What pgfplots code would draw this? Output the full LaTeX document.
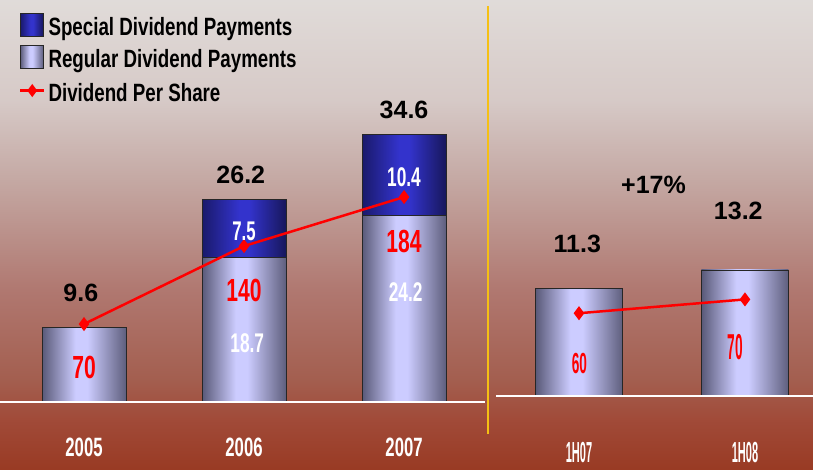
\documentclass[border=0pt]{standalone}
\usepackage{fontspec}
\setmainfont{Liberation Sans}
\usepackage{graphicx}
\usepackage{pgfplots}
\pgfplotsset{compat=1.18}
\newcommand\nar[2]{\scalebox{#1}[1]{#2}}
\newcommand\legtxt[1]{\nar{0.75}{#1}\rule[-5.5pt]{0pt}{19pt}}
\definecolor{gold}{RGB}{245,192,20}
\pgfdeclareverticalshading{bgshade}{100bp}{rgb(0bp)=(0.60,0.23,0.14); rgb(25bp)=(0.60,0.23,0.14); rgb(30.2bp)=(0.63,0.29,0.22); rgb(34.5bp)=(0.64,0.37,0.31); rgb(44.1bp)=(0.69,0.47,0.44); rgb(55.8bp)=(0.77,0.66,0.64); rgb(64.3bp)=(0.84,0.79,0.78); rgb(75bp)=(0.88,0.86,0.85); rgb(100bp)=(0.88,0.86,0.85)}
\pgfdeclarehorizontalshading{regshade}{100bp}{rgb(0bp)=(0.35,0.35,0.47); rgb(25bp)=(0.35,0.35,0.47); rgb(45bp)=(0.80,0.80,1.00); rgb(52bp)=(0.80,0.80,1.00); rgb(75bp)=(0.37,0.37,0.49); rgb(100bp)=(0.37,0.37,0.49)}
\pgfdeclarehorizontalshading{speshade}{100bp}{rgb(0bp)=(0.10,0.10,0.42); rgb(25bp)=(0.10,0.10,0.42); rgb(47bp)=(0.20,0.20,0.80); rgb(53bp)=(0.20,0.20,0.80); rgb(75bp)=(0.09,0.09,0.36); rgb(100bp)=(0.09,0.09,0.36)}
\pgfplotsset{
  sqleg/.style={legend image code/.code={\draw[##1] (0pt,-9.3pt) rectangle (23pt,13.7pt);\pgfsetbaseline{0pt}}},
  lnleg/.style={legend image code/.code={\draw[##1,sharp plot,mark repeat=2,mark phase=2] plot coordinates {(0pt,2.2pt) (12pt,2.2pt) (24pt,2.2pt)};\path (0pt,-9.3pt) (0pt,13.7pt);\pgfsetbaseline{0pt}}},
  leftgeo/.style={at={(0pt,67pt)}, anchor=south west, scale only axis, width=485pt, height=402pt, xmin=-0.525, xmax=2.506, ymin=0, clip=false},
  rightgeo/.style={at={(496pt,73pt)}, anchor=south west, scale only axis, width=317pt, height=396pt, xmin=-0.5, xmax=1.41, ymin=0, clip=false},
  regbar/.style={draw=black!85, line width=0.8pt, shade, shading=regshade},
  spebar/.style={draw=black!85, line width=0.8pt, shade, shading=speshade},
  dps/.style={red, line width=2.5pt, sharp plot, mark=diamond*, mark size=5pt, mark options={solid, fill=red}},
}
\newcommand\tot{\fontsize{25}{28}\selectfont\bfseries}
\newcommand\redl{\fontsize{32}{36}\selectfont\bfseries\color{red}}
\newcommand\whl{\fontsize{27}{30}\selectfont\bfseries\color{white}}
\begin{document}
\begin{tikzpicture}[x=1pt,y=1pt]
\shade[shading=bgshade] (0,0) rectangle (813,469);
\draw[gold, line width=2pt] (487.5,35) -- (487.5,463);
% ---------- left panel: bars, one axis per year so each bar gets its own shading ----------
\begin{axis}[leftgeo, ymax=52.07, hide axis, ybar, bar width=84pt, bar shift=0pt]
\addplot[regbar] coordinates {(0,9.6)};
\end{axis}
\begin{axis}[leftgeo, ymax=52.07, hide axis, ybar stacked, bar width=84pt]
\addplot[regbar] coordinates {(1,18.7)};
\addplot[spebar] coordinates {(1,7.5)};
\end{axis}
\begin{axis}[leftgeo, ymax=52.07, hide axis, ybar stacked, bar width=84pt]
\addplot[regbar] coordinates {(2,24.2)};
\addplot[spebar] coordinates {(2,10.4)};
\end{axis}
% ---------- left panel: dividend per share ----------
\begin{axis}[leftgeo, ymax=360.9, hide axis]
\addplot[dps] coordinates {(0,70) (1,140) (2,184)};
\end{axis}
% ---------- left panel: baseline, tick labels, legend, value labels ----------
\begin{axis}[
  leftgeo, ymax=52.07,
  axis x line=bottom, axis y line=none,
  x axis line style={white, line width=2.5pt, -},
  xtick={0,1,2}, xticklabels={\nar{0.63}{2005},\nar{0.63}{2006},\nar{0.63}{2007}},
  major tick length=0pt,
  xticklabel style={text=white, font=\fontsize{26.5}{30}\selectfont\bfseries, anchor=north, inner sep=0pt, yshift=-36pt},
  ytick=\empty,
  legend style={at={(0,1)}, anchor=north west, xshift=19pt, yshift=-13pt, draw=none, fill=none, inner sep=0pt, outer sep=0pt, row sep=8.5pt, column sep=3pt, font=\fontsize{25}{28}\selectfont\bfseries, nodes={inner sep=0pt}},
  legend cell align=left,
]
\addlegendimage{sqleg, spebar}
\addlegendentry{\legtxt{Special Dividend Payments}}
\addlegendimage{sqleg, regbar}
\addlegendentry{\legtxt{Regular Dividend Payments}}
\addlegendimage{lnleg, dps, mark size=4.5pt}
\addlegendentry{\legtxt{Dividend Per Share}}
\node[font=\tot] at (axis cs:-0.02,14.1) {9.6};
\node[font=\tot] at (axis cs:0.98,29.4) {26.2};
\node[font=\tot] at (axis cs:2.0,37.8) {34.6};
\node[font=\redl] at (axis cs:0.0,4.53) {\nar{0.66}{70}};
\node[font=\redl] at (axis cs:1.0,14.5) {\nar{0.66}{140}};
\node[font=\redl] at (axis cs:2.0,20.8) {\nar{0.66}{184}};
\node[font=\whl] at (axis cs:1.02,7.64) {\nar{0.64}{18.7}};
\node[font=\whl] at (axis cs:2.01,14.3) {\nar{0.64}{24.2}};
\node[font=\whl] at (axis cs:1.0,22.15) {\nar{0.62}{7.5}};
\node[font=\whl] at (axis cs:2.0,29.1) {\nar{0.64}{10.4}};
\end{axis}
% ---------- right panel: bars ----------
\begin{axis}[rightgeo, ymax=41.47, hide axis, ybar, bar width=87pt, bar shift=0pt]
\addplot[regbar] coordinates {(0,11.3)};
\addplot[regbar] coordinates {(1,13.2)};
\end{axis}
% ---------- right panel: dividend per share ----------
\begin{axis}[rightgeo, ymax=287, hide axis]
\addplot[dps] coordinates {(0,60) (1,70)};
\end{axis}
% ---------- right panel: baseline, tick labels, value labels ----------
\begin{axis}[
  rightgeo, ymax=41.47,
  axis x line=bottom, axis y line=none,
  x axis line style={white, line width=2.5pt, -},
  xtick={0,1}, xticklabels={\nar{0.38}{1H07},\nar{0.38}{1H08}},
  major tick length=0pt,
  xticklabel style={text=white, font=\fontsize{29}{32}\selectfont\bfseries, anchor=north, inner sep=0pt, yshift=-46pt},
  ytick=\empty,
]
\node[font=\tot] at (axis cs:-0.01,15.9) {11.3};
\node[font=\tot] at (axis cs:0.96,19.4) {13.2};
\node[font=\tot] at (axis cs:0.449,22.1) {+17\%};
\node[font=\fontsize{29}{32}\selectfont\bfseries\color{red}] at (axis cs:0.003,3.35) {\nar{0.47}{60}};
\node[font=\fontsize{36}{40}\selectfont\bfseries\color{red}] at (axis cs:0.94,5.08) {\nar{0.38}{70}};
\end{axis}
\pgfresetboundingbox
\path[use as bounding box] (0,0) rectangle (813,469);
\end{tikzpicture}
\end{document}
